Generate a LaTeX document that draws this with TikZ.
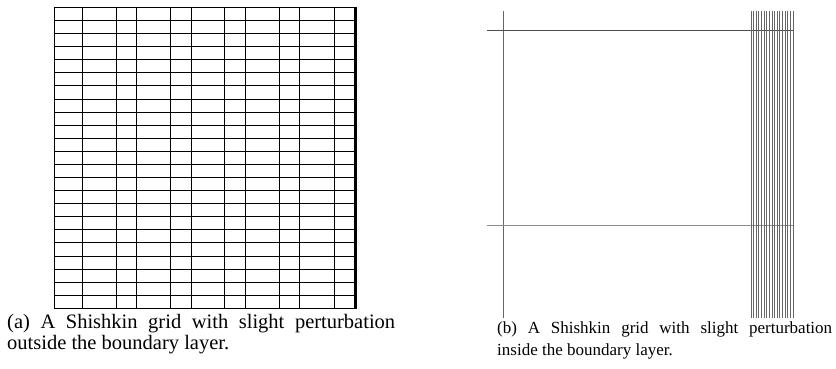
\documentclass[tikz,border=0pt]{standalone}
\usepackage{fontspec}
\setmainfont{Liberation Serif}
\tikzset{
  gridline/.style={line width=0.8pt, draw=black},
  meshline/.style={line width=0.8pt, draw=black!60},
  captexta/.style={anchor=base west, inner sep=0pt, font=\fontsize{20.5}{22}\selectfont},
  captextb/.style={anchor=base west, inner sep=0pt, font=\fontsize{17}{22}\selectfont}
}
\begin{document}
\begin{tikzpicture}[x=1pt,y=-1pt]
\useasboundingbox (0,0) rectangle (836,369);
% ---- left grid (a)
\foreach \k in {0,...,23}{
  \draw[gridline] (53.5,{7.3+\k*13.087}) -- (355,{7.3+\k*13.087});
}
\foreach \x in {54,82,116,136.7,170.7,191.7,224.7,245,279.3,299.7,334.3}{
  \draw[gridline] (\x,7.3) -- (\x,308.3);
}
\fill[black] (353.6,6.9) rectangle (357.2,308.7);
% ---- right grid (b)
\draw[meshline] (503,11) -- (503,318);
\draw[meshline, draw=black!70] (487,30.3) -- (792.7,30.3);
\draw[meshline, draw=black!45] (487,225.7) -- (792.7,225.7);
\foreach \k in {0,...,16}{
  \draw[meshline] ({751+\k*2.625},11) -- ({751+\k*2.625},318);
}
% ---- captions
\node[captexta] (ca1) at (7,328) {\hbox to 388pt{(a) A Shishkin grid with slight perturbation}};
\node[captexta] (ca2) at (7,349.5) {outside the boundary layer.};
\node[captextb] (cb1) at (497,333.5) {\hbox to 335pt{(b) A Shishkin grid with slight perturbation}};
\node[captextb] (cb2) at (497,355) {inside the boundary layer.};
\end{tikzpicture}
\end{document}
